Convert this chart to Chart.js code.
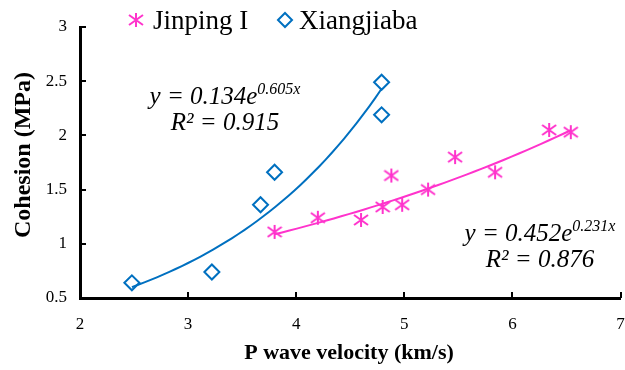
<!DOCTYPE html>
<html>
<head>
<meta charset="utf-8">
<script src="https://cdn.jsdelivr.net/npm/chart.js@4.4.0/dist/chart.umd.min.js"></script>
<style>
  html, body { margin: 0; padding: 0; background: #fff; overflow: hidden; }
</style>
</head>
<body>
<canvas id="chart" width="630" height="370"></canvas>
<script>
// data
const seriesNames = ['Jinping I', 'Xiangjiaba'];
const jinpingVp = [3.80, 4.20, 4.60, 4.80, 4.88, 4.98, 5.22, 5.47, 5.84, 6.34, 6.54];
const jinpingC = [1.11, 1.24, 1.22, 1.34, 1.63, 1.36, 1.50, 1.80, 1.66, 2.05, 2.03];
const xiangjiabaVp = [2.48, 3.22, 3.67, 3.80, 4.79, 4.79];
const xiangjiabaC = [0.64, 0.74, 1.36, 1.66, 2.19, 2.49];

// exponential trendlines y = a * e^(b x), as printed on the figure
const fitA = [0.452, 0.134];
const fitB = [0.231, 0.605];
const fitAText = ['0.452', '0.134'];
const fitBText = ['0.231', '0.605'];
const fitR2Text = ['0.876', '0.915'];

const xTicks = [2, 3, 4, 5, 6, 7];
const yTicks = [0.5, 1, 1.5, 2, 2.5, 3];

const PINK = '#ff33cc';
const BLUE = '#0070c0';
const SERIF = "'Liberation Serif', 'Times New Roman', serif";

// asterisk marker (X with a vertical stroke), like the Excel one
function makeAsterisk(size, color) {
    const c = document.createElement('canvas');
    c.width = size;
    c.height = size;
    const g = c.getContext('2d');
    const m = size / 2;
    g.strokeStyle = color;
    g.lineWidth = 2;
    g.beginPath();
    g.moveTo(m, 1); g.lineTo(m, size - 1);
    g.moveTo(1, 3); g.lineTo(size - 1, size - 3);
    g.moveTo(size - 1, 3); g.lineTo(1, size - 3);
    g.stroke();
    return c;
}
const asterisk = makeAsterisk(16, PINK);

function toPoints(xs, ys) {
    return xs.map((x, i) => ({ x, y: ys[i] }));
}

// points of the fitted curve between the smallest and largest measured x
function trendPoints(xs, a, b) {
    const lo = Math.min(...xs), hi = Math.max(...xs);
    const pts = [];
    for (let i = 0; i <= 40; i++) {
        const x = lo + (hi - lo) * i / 40;
        pts.push({ x, y: a * Math.exp(b * x) });
    }
    return pts;
}

// tick marks pointing into the plot
const insideTicks = {
    id: 'insideTicks',
    afterDraw(chart) {
        const { ctx, chartArea, scales } = chart;
        ctx.save();
        ctx.strokeStyle = '#000';
        ctx.lineWidth = 2;
        ctx.beginPath();
        xTicks.forEach(v => {
            const px = Math.round(scales.x.getPixelForValue(v));
            ctx.moveTo(px, chartArea.bottom);
            ctx.lineTo(px, chartArea.bottom - 6);
        });
        yTicks.forEach(v => {
            const py = Math.round(scales.y.getPixelForValue(v));
            ctx.moveTo(chartArea.left, py);
            ctx.lineTo(chartArea.left + 6, py);
        });
        ctx.stroke();
        ctx.restore();
    }
};

// legend, equations and axis titles
const labelsPlugin = {
    id: 'labels',
    afterDraw(chart) {
        const ctx = chart.ctx;
        ctx.save();
        ctx.fillStyle = '#000';
        ctx.textBaseline = 'alphabetic';

        // legend
        ctx.drawImage(asterisk, 136 - 8, 20 - 8);
        ctx.font = `27px ${SERIF}`;
        ctx.textAlign = 'left';
        ctx.fillText(seriesNames[0], 153, 29);
        ctx.strokeStyle = BLUE;
        ctx.lineWidth = 2;
        ctx.beginPath();
        ctx.moveTo(278, 20); ctx.lineTo(285, 13); ctx.lineTo(292, 20); ctx.lineTo(285, 27);
        ctx.closePath();
        ctx.stroke();
        ctx.fillText(seriesNames[1], 299, 29);

        // equations
        const eqPos = [[540, 241], [225, 104]];
        eqPos.forEach(([cx, base], i) => {
            const main = `y = ${fitAText[i]}e`;
            const sup = `${fitBText[i]}x`;
            ctx.font = `italic 25px ${SERIF}`;
            const wMain = ctx.measureText(main).width;
            ctx.font = `italic 16px ${SERIF}`;
            const wSup = ctx.measureText(sup).width;
            const left = cx - (wMain + wSup) / 2;
            ctx.textAlign = 'left';
            ctx.font = `italic 25px ${SERIF}`;
            ctx.fillText(main, left, base);
            ctx.font = `italic 16px ${SERIF}`;
            ctx.fillText(sup, left + wMain, base - 10);
            ctx.font = `italic 25px ${SERIF}`;
            ctx.textAlign = 'center';
            ctx.fillText(`R² = ${fitR2Text[i]}`, cx, base + 26);
        });

        // axis titles
        ctx.textAlign = 'center';
        ctx.font = `bold 22px ${SERIF}`;
        ctx.fillText('P wave velocity (km/s)', 349, 359);
        ctx.save();
        ctx.font = `bold 24px ${SERIF}`;
        ctx.translate(30, 155);
        ctx.rotate(-Math.PI / 2);
        ctx.fillText('Cohesion (MPa)', 0, 0);
        ctx.restore();

        ctx.restore();
    }
};

new Chart(document.getElementById('chart'), {
    type: 'scatter',
    data: {
        datasets: [
            {
                label: seriesNames[0],
                data: toPoints(jinpingVp, jinpingC),
                pointStyle: asterisk,
                pointRadius: 8,
                borderColor: PINK,
                backgroundColor: PINK,
                order: 1,
            },
            {
                label: seriesNames[1],
                data: toPoints(xiangjiabaVp, xiangjiabaC),
                pointStyle: 'rectRot',
                pointRadius: 7.5,
                borderWidth: 2,
                borderColor: BLUE,
                backgroundColor: 'rgba(0,0,0,0)',
                order: 1,
            },
            {
                type: 'line',
                label: 'fit Jinping I',
                data: trendPoints(jinpingVp, fitA[0], fitB[0]),
                borderColor: PINK,
                borderWidth: 2,
                pointRadius: 0,
                tension: 0,
                fill: false,
                order: 2,
            },
            {
                type: 'line',
                label: 'fit Xiangjiaba',
                data: trendPoints(xiangjiabaVp, fitA[1], fitB[1]),
                borderColor: BLUE,
                borderWidth: 2,
                pointRadius: 0,
                tension: 0,
                fill: false,
                order: 2,
            },
        ],
    },
    options: {
        responsive: false,
        animation: false,
        devicePixelRatio: 1,
        layout: { padding: { top: 27, right: 0, left: 0, bottom: 0 } },
        plugins: {
            legend: { display: false },
            tooltip: { enabled: false },
        },
        scales: {
            x: {
                type: 'linear',
                min: 2,
                max: 7,
                afterBuildTicks: s => { s.ticks = xTicks.map(v => ({ value: v })); },
                afterFit: s => {
                    s.height = 72;
                    s.paddingLeft = 0;
                    s.paddingRight = 0;
                },
                grid: { display: true, drawOnChartArea: false, drawTicks: false },
                border: { color: '#000', width: 3 },
                ticks: {
                    color: '#000',
                    padding: 16,
                    font: { family: SERIF, size: 17 },
                    callback: v => String(v),
                },
            },
            y: {
                type: 'linear',
                min: 0.5,
                max: 3,
                afterBuildTicks: s => { s.ticks = yTicks.map(v => ({ value: v })); },
                afterFit: s => { s.width = 80; },
                grid: { display: true, drawOnChartArea: false, drawTicks: false },
                border: { color: '#000', width: 3 },
                ticks: {
                    color: '#000',
                    padding: 13,
                    font: { family: SERIF, size: 17 },
                    callback: v => String(v),
                },
            },
        },
    },
    plugins: [insideTicks, labelsPlugin],
});
</script>
</body>
</html>
